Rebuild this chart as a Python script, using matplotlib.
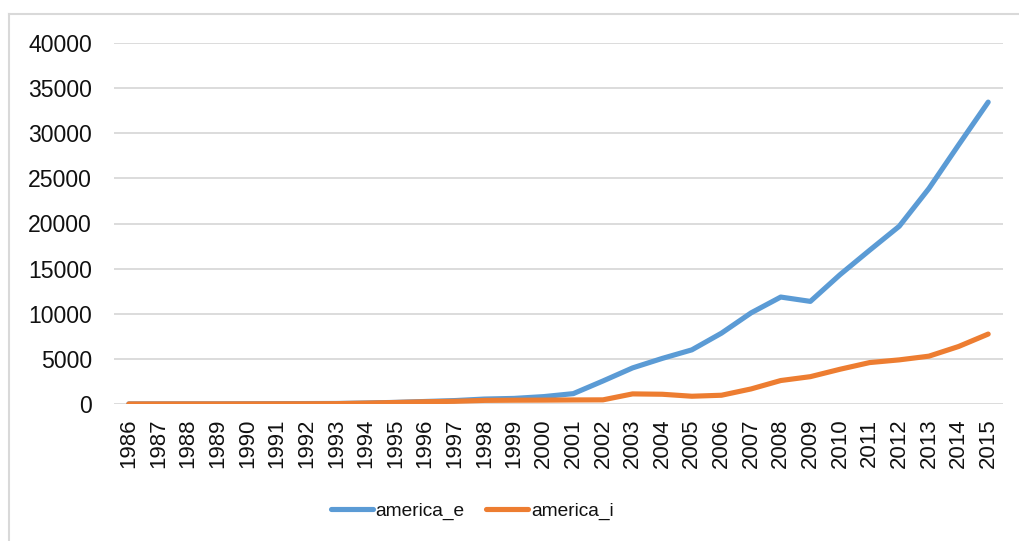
import matplotlib
matplotlib.use("Agg")
import matplotlib.pyplot as plt
from matplotlib.lines import Line2D

years = [str(y) for y in range(1986, 2016)]
america_e = [10, 15, 20, 20, 30, 40, 50, 60, 110, 180, 280, 380, 550, 620, 820, 1150,
             2550, 4000, 5050, 6000, 7850, 10100, 11850, 11370, 14330, 17040, 19700,
             23880, 28700, 33450]
america_i = [5, 8, 10, 10, 15, 20, 25, 40, 100, 170, 250, 300, 400, 420, 430, 450,
             460, 1120, 1080, 860, 970, 1670, 2600, 3030, 3850, 4590, 4890, 5300,
             6370, 7750]
yticks = list(range(0, 40001, 5000))

plt.rcParams['font.family'] = ['Liberation Sans', 'DejaVu Sans']

W, H = 1019, 541
fig = plt.figure(figsize=(W / 100, H / 100), dpi=100)
ax = fig.add_axes([114 / W, 1 - 404 / H, (1003 - 114) / W, (404 - 43) / H])

x = list(range(len(years)))
l1, = ax.plot(x, america_e, color='#5B9BD5', lw=3.7, solid_capstyle='round',
              solid_joinstyle='round', label='america_e', zorder=3)
l2, = ax.plot(x, america_i, color='#ED7D31', lw=3.7, solid_capstyle='round',
              solid_joinstyle='round', label='america_i', zorder=4)

ax.set_xlim(-0.5, len(years) - 0.5)
ax.set_ylim(0, 40000)
ax.set_yticks(yticks)
ax.set_yticklabels([str(v) for v in yticks])
ax.set_xticks(x)
ax.set_xticklabels(years, rotation=90)
ax.tick_params(axis='y', length=0, pad=16, labelsize=16.6, labelcolor='#111111')
ax.tick_params(axis='x', length=0, pad=10.5, labelsize=16, labelcolor='#111111')
ax.grid(axis='y', color='#D9D9D9', lw=1.3)
ax.set_axisbelow(True)
for s in ax.spines.values():
    s.set_visible(False)

# chart area border (top & left visible)
fig.add_artist(Line2D([9 / W, 1], [1 - 14 / H, 1 - 14 / H], color='#D9D9D9', lw=1.5,
                      transform=fig.transFigure))
fig.add_artist(Line2D([9 / W, 9 / W], [0, 1 - 14 / H], color='#D9D9D9', lw=1.5,
                      transform=fig.transFigure))

fig.legend(handles=[l1, l2], loc='center', bbox_to_anchor=(472 / W, 1 - 511 / H),
           ncol=2, frameon=False, fontsize=13.8,
           handlelength=2.2, handletextpad=0.15, columnspacing=1.1,
           labelcolor='#111111')

fig.savefig('out.png', dpi=100, facecolor='white')
